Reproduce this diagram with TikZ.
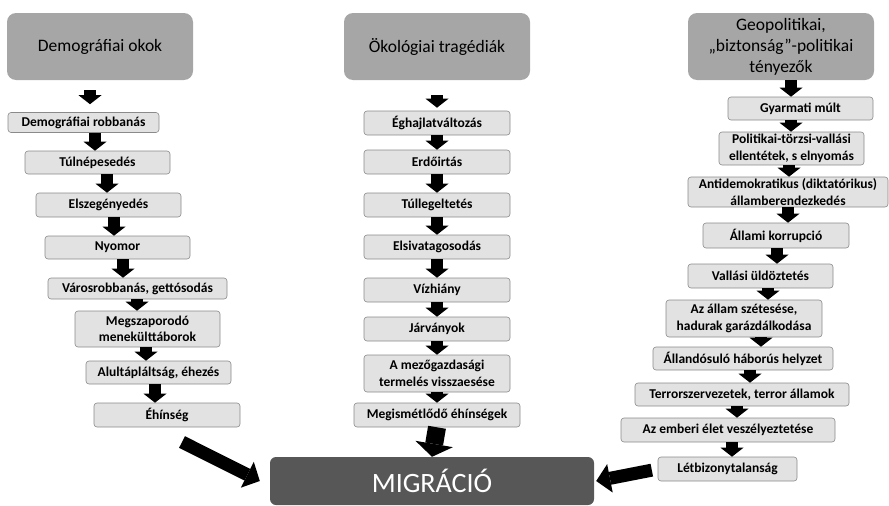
\documentclass[tikz,border=0pt]{standalone}
\usepackage{fontspec}
\setmainfont{Carlito}
\usetikzlibrary{arrows.meta}
\definecolor{headgray}{HTML}{A6A6A6}
\definecolor{boxgray}{HTML}{E2E2E2}
\definecolor{edgegray}{HTML}{8A8A8A}
\definecolor{miggray}{HTML}{575757}

\begin{document}
\begin{tikzpicture}[x=1pt,y=-1pt,
  head/.style={fill=headgray,rounded corners=9pt,minimum width=186pt,minimum height=67pt,
    inner sep=0pt,align=center,font=\fontsize{17.5}{21}\selectfont},
  cause/.style={draw=edgegray,fill=boxgray,line width=0.6pt,rounded corners=3pt,
    inner sep=0pt,align=center,font=\bfseries\fontsize{13.5}{16.5}\selectfont},
  sz/.style 2 args={minimum width=#1pt,minimum height=#2pt},
  flow/.style={line width=12pt,-{Triangle[width=23pt,length=9pt,line width=0pt]}},
  bigflow/.style={line width=13pt,-{Triangle[width=29pt,length=14pt,line width=0pt]}},
  downflow/.style={line width=18pt,-{Triangle[width=38pt,length=13pt,line width=0pt]}}]
  \useasboundingbox (0,0) rectangle (889,506);

  % headers
  \node[head] (hd) at (100,46.5) {Demográfiai okok};
  \node[head] (he) at (437,46.5) {Ökológiai tragédiák};
  \node[head] (hg) at (781,46.5) {Geopolitikai,\\„biztonság”-politikai\\tényezők};

  % demographic chain
  \node[cause,sz={151}{20}] (d1) at (83.5,122.5) {Demográfiai robbanás};
  \node[cause,sz={145}{23}] (d2) at (97.5,162.5) {Túlnépesedés};
  \node[cause,sz={145}{24}] (d3) at (108.5,205) {Elszegényedés};
  \node[cause,sz={145}{23}] (d4) at (117.5,247.5) {Nyomor};
  \node[cause,sz={179}{21}] (d5) at (137.5,288.5) {Városrobbanás, gettósodás};
  \node[cause,sz={145}{36}] (d6) at (147.5,329) {Megszaporodó\\menekülttáborok};
  \node[cause,sz={145}{23}] (d7) at (158.5,372.5) {Alultápláltság, éhezés};
  \node[cause,sz={146}{24}] (d8) at (167,415) {Éhínség};

  % ecological chain
  \node[cause,sz={146}{24}] (e1) at (437,123) {Éghajlatváltozás};
  \node[cause,sz={146}{24}] (e2) at (437,162) {Erdőirtás};
  \node[cause,sz={146}{24}] (e3) at (437,205) {Túllegeltetés};
  \node[cause,sz={146}{24}] (e4) at (437,247) {Elsivatagosodás};
  \node[cause,sz={146}{24}] (e5) at (437,290) {Vízhiány};
  \node[cause,sz={146}{24}] (e6) at (437,329) {Járványok};
  \node[cause,sz={146}{37}] (e7) at (437,373.5) {A mezőgazdasági\\termelés visszaesése};
  \node[cause,sz={166}{24}] (e8) at (437,415) {Megismétlődő éhínségek};

  % geopolitical chain
  \node[cause,sz={145}{23}] (g1) at (800.5,108.5) {Gyarmati múlt};
  \node[cause,sz={145}{33}] (g2) at (791.5,148.5) {Politikai-törzsi-vallási\\ellentétek, s elnyomás};
  \node[cause,sz={200}{30}] (g3) at (788,192) {Antidemokratikus (diktatórikus)\\államberendezkedés};
  \node[cause,sz={146}{25}] (g4) at (776,235.5) {Állami korrupció};
  \node[cause,sz={145}{24}] (g5) at (760.5,276) {Vallási üldöztetés};
  \node[cause,sz={156}{37}] (g6) at (744,318.5) {Az állam szétesése,\\hadurak garázdálkodása};
  \node[cause,sz={180}{23}] (g7) at (743,358.5) {Állandósuló háborús helyzet};
  \node[cause,sz={214}{23}] (g8) at (742,394.5) {Terrorszervezetek, terror államok};
  \node[cause,sz={214}{24}] (g9) at (728,430) {Az emberi élet veszélyeztetése};
  \node[cause,sz={139}{24}] (g10) at (727.5,469) {Létbizonytalanság};

  % target
  \node[fill=miggray,rounded corners=6pt,minimum width=324pt,minimum height=48pt,
    text=white,font=\fontsize{28}{30}\selectfont] (mig) at (432,481) {MIGRÁCIÓ};

  % arrows
  \draw[flow,shorten <=10pt,shorten >=8pt] (90,0 |- hd.south) -- (90,0 |- d1.north);
  \foreach \a/\b/\x in {d1/d2/95,d2/d3/107,d3/d4/114,d4/d5/123,d5/d6/137,d6/d7/146,d7/d8/155}
    \draw[flow] (\x,0 |- \a.south) -- (\x,0 |- \b.north);

  \draw[flow,shorten <=15pt,shorten >=3pt] (he.south) -- (e1.north);
  \foreach \a/\b in {e1/e2,e2/e3,e3/e4,e4/e5,e5/e6,e6/e7,e7/e8}
    \draw[flow] (\a.south) -- (\b.north);

  \draw[flow] (791,0 |- hg.south) -- (791,0 |- g1.north);
  \foreach \a/\b/\x in {g1/g2/791,g2/g3/789,g3/g4/788,g4/g5/777,g5/g6/768,g6/g7/761,g7/g8/750,g8/g9/737,g9/g10/732}
    \draw[flow] (\x,0 |- \a.south) -- (\x,0 |- \b.north);

  \coordinate (lt) at (182,442);
  \draw[bigflow] (lt) -- ([xshift=-10pt]mig.west);
  \draw[downflow] (e8.south) -- (mig.north);
  \draw[bigflow,shorten <=6pt] (g10.west) -- ([xshift=2pt]mig.east);
\end{tikzpicture}
\end{document}
